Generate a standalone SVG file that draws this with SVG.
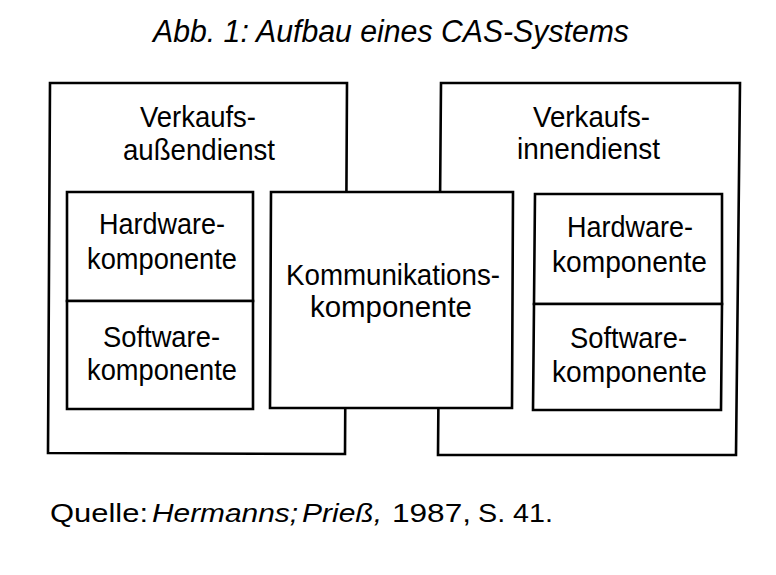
<svg xmlns="http://www.w3.org/2000/svg" width="776" height="575" viewBox="0 0 776 575">
<style>
.box{fill:#fff;stroke:#000;stroke-width:2.6;stroke-linejoin:miter}
text{font-family:"Liberation Sans",Arial,Helvetica,sans-serif;fill:#000}
.lbl{font-size:30px}
.it{font-style:italic}
</style>
<rect x="0" y="0" width="776" height="575" fill="#fff"/>
<text class="it" x="153" y="42" font-size="31" textLength="476" lengthAdjust="spacingAndGlyphs">Abb. 1: Aufbau eines CAS-Systems</text>
<g id="aussendienst">
<path class="box" d="M50,83 L347,83 L345,454 L48,453 Z"/>
<text class="lbl" x="140" y="127" textLength="116" lengthAdjust="spacingAndGlyphs">Verkaufs-</text>
<text class="lbl" x="123" y="160" textLength="152" lengthAdjust="spacingAndGlyphs">außendienst</text>
</g>
<g id="innendienst">
<path class="box" d="M441,83 L740,83 L736,455 L438,455 Z"/>
<text class="lbl" x="533" y="127" textLength="117" lengthAdjust="spacingAndGlyphs">Verkaufs-</text>
<text class="lbl" x="517" y="159" textLength="143" lengthAdjust="spacingAndGlyphs">innendienst</text>
</g>
<g id="kommunikation">
<path class="box" d="M271,192 L513,192 L512,408 L270,408 Z"/>
<text class="lbl" x="286" y="285" textLength="214" lengthAdjust="spacingAndGlyphs">Kommunikations-</text>
<text class="lbl" x="310" y="317" textLength="162" lengthAdjust="spacingAndGlyphs">komponente</text>
</g>
<g id="hardware-links">
<path class="box" d="M67,192 L253,192 L253,301 L67,301 Z"/>
<text class="lbl" x="99" y="234" textLength="126" lengthAdjust="spacingAndGlyphs">Hardware-</text>
<text class="lbl" x="87" y="269" textLength="150" lengthAdjust="spacingAndGlyphs">komponente</text>
</g>
<g id="software-links">
<path class="box" d="M67,301 L253,301 L253,409 L67,409 Z"/>
<text class="lbl" x="103" y="347" textLength="117" lengthAdjust="spacingAndGlyphs">Software-</text>
<text class="lbl" x="87" y="380" textLength="150" lengthAdjust="spacingAndGlyphs">komponente</text>
</g>
<g id="hardware-rechts">
<path class="box" d="M535,194 L722,194 L722,304 L534,304 Z"/>
<text class="lbl" x="567" y="237" textLength="126" lengthAdjust="spacingAndGlyphs">Hardware-</text>
<text class="lbl" x="552" y="272" textLength="155" lengthAdjust="spacingAndGlyphs">komponente</text>
</g>
<g id="software-rechts">
<path class="box" d="M534,304 L722,304 L721,410 L533,410 Z"/>
<text class="lbl" x="570" y="348" textLength="117" lengthAdjust="spacingAndGlyphs">Software-</text>
<text class="lbl" x="552" y="382" textLength="155" lengthAdjust="spacingAndGlyphs">komponente</text>
</g>
<text font-size="26" y="522"><tspan x="50" textLength="98" lengthAdjust="spacingAndGlyphs">Quelle:</tspan><tspan class="it" x="152" textLength="146" lengthAdjust="spacingAndGlyphs">Hermanns;</tspan><tspan class="it" x="302" textLength="80" lengthAdjust="spacingAndGlyphs">Prieß,</tspan><tspan x="392" textLength="79" lengthAdjust="spacingAndGlyphs">1987,</tspan><tspan x="478" textLength="75" lengthAdjust="spacingAndGlyphs">S. 41.</tspan></text>
</svg>
